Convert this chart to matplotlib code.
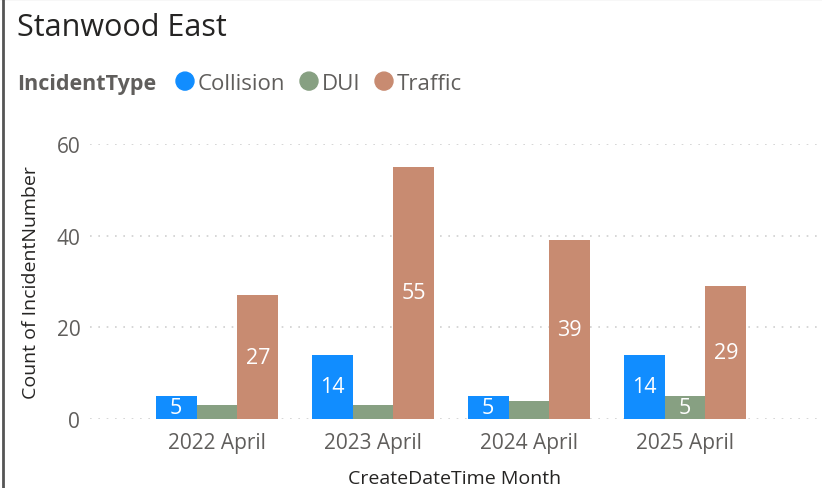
import matplotlib.pyplot as plt
import numpy as np

plt.rcParams['font.family'] = ['Open Sans', 'DejaVu Sans']

months = ['2022 April', '2023 April', '2024 April', '2025 April']
collision = [5, 14, 5, 14]
dui = [3, 3, 4, 5]
traffic = [27, 55, 39, 29]

series = [('Collision', collision, '#118DFF'),
          ('DUI', dui, '#87A082'),
          ('Traffic', traffic, '#C88B71')]

fig = plt.figure(figsize=(8.22, 4.89), dpi=100)
ax = fig.add_axes([0.1095, 0.141, 0.8880, 0.5625])

x = np.arange(len(months))
w = 0.262
for i, (name, vals, col) in enumerate(series):
    bars = ax.bar(x + (i - 1) * w, vals, width=w, color=col, zorder=3)
    for b, v in zip(bars, vals):
        if v >= 5:
            ax.text(b.get_x() + b.get_width() / 2, v / 2, str(v),
                    ha='center', va='center', color='white', fontsize=15.5, zorder=4)

ax.set_xlim(-0.814, 3.865)
ax.set_ylim(0, 60)
ax.set_yticks([0, 20, 40, 60])
ax.set_xticks(x)
ax.set_xticklabels(months)
ax.tick_params(length=0, labelsize=15, labelcolor='#605E5C')
ax.tick_params(axis='y', pad=7)
ax.tick_params(axis='x', pad=9)
for s in ax.spines.values():
    s.set_visible(False)
ax.grid(axis='y', color='#D0D0D0', linestyle=(0, (1, 4)), linewidth=1.2, zorder=0)
ax.set_axisbelow(True)

ax.set_xlabel('CreateDateTime Month', fontsize=14, color='#252423', labelpad=12)
ax.set_ylabel('Count of IncidentNumber', fontsize=14, color='#252423', labelpad=12)

fig.text(0.021, 0.942, 'Stanwood East', fontsize=22, color='#252423', va='center')
ly = 0.828
fig.text(0.021, ly, 'IncidentType', fontsize=15.5, fontweight='bold', color='#605E5C', va='center')
lx = [185, 309, 384]
for (name, vals, col), px in zip(series, lx):
    c = plt.Circle((px / 100, ly * 4.89 + 0.02), 0.09, color=col,
                   transform=fig.dpi_scale_trans, figure=fig)
    fig.patches.append(c)
    fig.text((px + 13) / 822, ly, name, fontsize=16, color='#605E5C', va='center')

# window border
fig.add_artist(plt.Line2D([0.004, 0.004], [0, 1], color='#555555', linewidth=2, transform=fig.transFigure))
fig.add_artist(plt.Line2D([0, 1], [0.999, 0.999], color='#555555', linewidth=1.5, transform=fig.transFigure))

fig.savefig('out.png', dpi=100)
